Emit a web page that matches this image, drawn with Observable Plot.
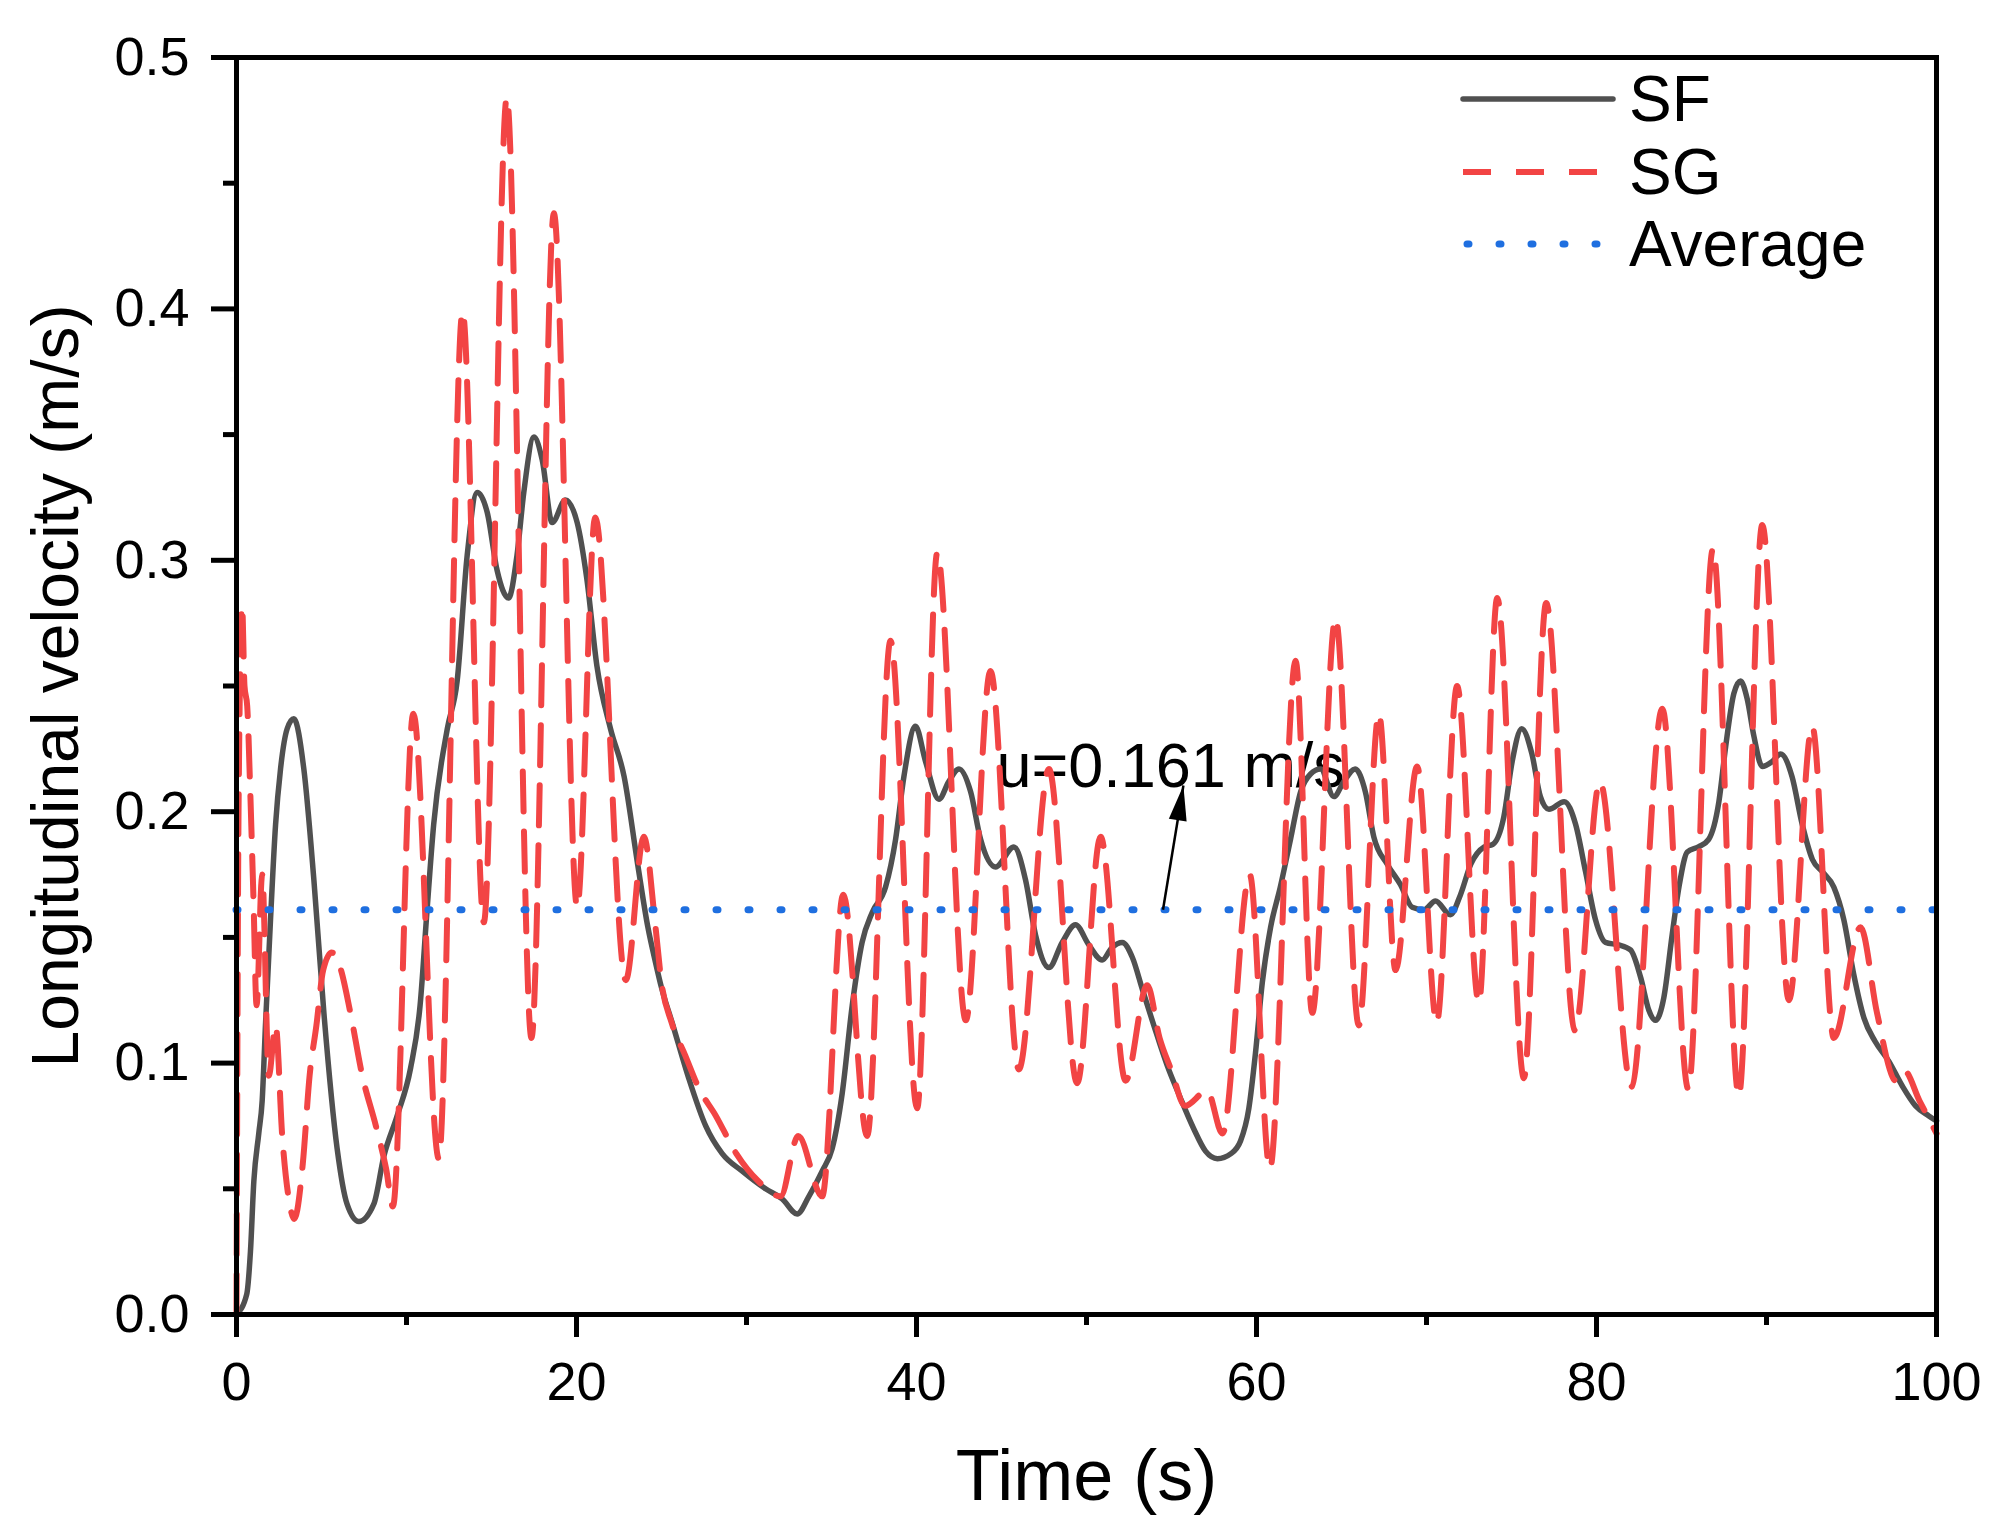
<!DOCTYPE html>
<html>
<head>
<meta charset="utf-8">
<script src="https://cdn.jsdelivr.net/npm/d3@7"></script>
<script src="https://cdn.jsdelivr.net/npm/@observablehq/plot@0.6"></script>
<style>
  html, body { margin: 0; padding: 0; background: #ffffff; overflow: hidden; }
  #chart svg { display: block; }
</style>
</head>
<body>
<div id="chart"></div>
<script>
// ---------------- data (time s, velocity m/s) ----------------
const sfPoints = [
  [0,0],[0.6,0.008],[0.82,0.025],[1.02,0.053],[1.31,0.072],[1.51,0.085],[1.71,0.116],[2.0,0.157],
  [2.3,0.195],[2.59,0.217],[2.98,0.233],[3.37,0.237],[3.96,0.217],[4.55,0.173],[5.14,0.12],[5.92,0.066],
  [6.5,0.044],[7.2,0.037],[8.08,0.044],[8.67,0.063],[9.45,0.079],[10.24,0.098],[10.8,0.123],[11.2,0.16],
  [11.6,0.195],[12.4,0.233],[12.98,0.252],[13.57,0.302],[14.16,0.327],[14.75,0.319],[15.33,0.296],[16.0,0.285],
  [16.5,0.302],[16.9,0.327],[17.5,0.349],[17.98,0.34],[18.57,0.315],[19.35,0.324],[20.04,0.315],[20.6,0.293],
  [21.2,0.258],[22.0,0.233],[22.8,0.214],[23.6,0.179],[24.2,0.154],[24.65,0.14],[25.0,0.13],[25.63,0.116],
  [26.6,0.094],[27.6,0.075],[28.57,0.064],[29.75,0.057],[31.12,0.050],[32.1,0.046],[32.98,0.040],[33.67,0.047],
  [34.45,0.057],[35.04,0.066],[35.63,0.088],[36.22,0.123],[36.8,0.148],[37.4,0.160],[38.18,0.170],[38.77,0.189],
  [39.26,0.214],[39.94,0.234],[40.53,0.220],[41.32,0.205],[41.9,0.212],[42.5,0.217],[43.18,0.208],[43.77,0.189],
  [44.65,0.178],[45.73,0.186],[46.41,0.173],[47.0,0.151],[47.79,0.138],[48.57,0.148],[49.35,0.155],[50.14,0.147],
  [50.92,0.141],[51.5,0.146],[52.1,0.148],[52.7,0.142],[53.3,0.129],[53.96,0.115],[54.75,0.099],[55.5,0.0865],
  [56.3,0.074],[57.0,0.065],[57.7,0.062],[58.5,0.064],[59.06,0.069],[59.55,0.082],[59.94,0.104],[60.34,0.132],
  [60.83,0.154],[61.4,0.170],[62.0,0.189],[62.6,0.208],[63.18,0.215],[63.77,0.217],[64.55,0.206],[65.14,0.212],
  [65.8,0.217],[66.4,0.208],[66.9,0.190],[67.7,0.179],[68.47,0.171],[69.16,0.162],[69.85,0.161],[70.53,0.1645],
  [71.4,0.159],[72.0,0.167],[72.6,0.179],[73.4,0.186],[73.9,0.187],[74.55,0.198],[75.04,0.220],[75.6,0.233],
  [76.2,0.223],[76.7,0.206],[77.2,0.201],[78.1,0.204],[78.77,0.195],[79.36,0.176],[79.94,0.157],[80.53,0.148],
  [81.3,0.147],[82.0,0.145],[82.6,0.134],[83.08,0.121],[83.47,0.117],[83.96,0.126],[84.45,0.151],[84.85,0.170],
  [85.34,0.184],[86.0,0.186],[86.6,0.189],[87.2,0.204],[87.6,0.226],[88.08,0.247],[88.47,0.252],[88.86,0.245],
  [89.26,0.230],[89.75,0.218],[90.34,0.220],[90.83,0.223],[91.5,0.214],[92.1,0.195],[92.7,0.181],[93.3,0.176],
  [93.96,0.170],[94.55,0.157],[95.14,0.135],[95.73,0.118],[96.4,0.1085],[97.2,0.1007],[97.98,0.091],[98.77,0.083],
  [99.55,0.079],[100,0.077]
];

const sgPoints = [
  [0,0],[0.12,0.2],[0.33,0.282],[0.47,0.25],[0.63,0.242],[0.8,0.21],[1.0,0.165],[1.18,0.123],
  [1.51,0.175],[1.9,0.095],[2.3,0.115],[2.7,0.07],[3.1,0.045],[3.4,0.038],[3.9,0.06],[4.3,0.095],
  [4.7,0.115],[5.1,0.137],[5.6,0.144],[6.1,0.138],[6.7,0.12],[7.4,0.095],[8.2,0.075],[8.8,0.058],
  [9.2,0.043],[10.4,0.239],[11.9,0.062],[13.3,0.399],[14.55,0.156],[15.9,0.484],[17.35,0.11],[18.67,0.438],
  [20.04,0.162],[21.1,0.317],[22.9,0.133],[23.96,0.19],[24.65,0.154],[25.0,0.132],[25.6,0.116],[26.4,0.103],
  [27.2,0.09],[28.2,0.079],[29.4,0.064],[30.7,0.053],[32.0,0.047],[33.04,0.071],[34.45,0.047],[35.69,0.167],
  [37.1,0.071],[38.47,0.268],[40.04,0.082],[41.22,0.303],[42.9,0.117],[44.35,0.256],[46.02,0.0975],[47.79,0.217],
  [49.45,0.092],[50.83,0.190],[52.3,0.093],[53.57,0.131],[54.3,0.11],[55.0,0.097],[55.8,0.083],[57.1,0.089],
  [58.0,0.072],[59.6,0.175],[60.79,0.058],[62.3,0.260],[63.28,0.120],[64.65,0.277],[66.02,0.115],[67.2,0.239],
  [68.18,0.137],[69.45,0.218],[70.6,0.116],[71.8,0.25],[73.08,0.124],[74.16,0.285],[75.73,0.094],[77.04,0.283],
  [78.73,0.113],[80.2,0.212],[82.06,0.0906],[83.87,0.241],[85.4,0.0897],[86.85,0.3045],[88.37,0.087],[89.75,0.314],
  [91.32,0.125],[92.69,0.234],[93.96,0.110],[95.53,0.154],[96.5,0.12],[97.6,0.093],[98.1,0.097],[99.0,0.085],
  [100,0.072]
];

const averageValue = 0.161;
const seriesNames = ["SF", "SG", "Average"];
const xMajorTicks = [0, 20, 40, 60, 80, 100];
const xMinorTicks = [10, 30, 50, 70, 90];
const yMajorTicks = [0, 0.1, 0.2, 0.3, 0.4, 0.5];
const yMinorTicks = [0.05, 0.15, 0.25, 0.35, 0.45];
const annotationText = "u=0.161 m/s";
const annotationAnchor = [44.7, 0.218];              // label position (t, v)
const annotationArrow = [54.5, 0.161, 55.7, 0.2104]; // from average line to label

// ---------------- layout / style ----------------
const W = 2003, H = 1530;
const ML = 236, MR = 67, MT = 57, MB = 216;
const FONT = "'Liberation Sans', Arial, Helvetica, sans-serif";
const C_SF = "#505050", C_SG = "#f24444", C_AVG = "#1f6fe0";
const SG_DASH = "40,20";

const pxPerT = (W - ML - MR) / 100;
const pxPerV = (H - MT - MB) / 0.5;
const [ax1, ay1, ax2, ay2] = annotationArrow;
const arrowAngle = Math.atan2((ax2 - ax1) * pxPerT, (ay2 - ay1) * pxPerV) * 180 / Math.PI;

const chart = Plot.plot({
  width: W,
  height: H,
  marginLeft: ML, marginRight: MR, marginTop: MT, marginBottom: MB,
  style: { fontFamily: FONT, background: "#ffffff", color: "#000000", overflow: "visible" },
  x: { domain: [0, 100] },
  y: { domain: [0, 0.5] },
  marks: [
    Plot.text([annotationText], {
      x: () => annotationAnchor[0], y: () => annotationAnchor[1], text: d => d,
      textAnchor: "start", lineAnchor: "middle", fontSize: 63, fill: "#000000"
    }),
    Plot.line(sfPoints, { x: d => d[0], y: d => d[1], curve: "monotone-x", stroke: C_SF, strokeWidth: 5.5 }),
    Plot.line(sgPoints, { x: d => d[0], y: d => d[1], curve: "monotone-x", stroke: C_SG, strokeWidth: 6, strokeDasharray: SG_DASH }),
    Plot.ruleY([averageValue], { stroke: C_AVG, strokeWidth: 7, strokeDasharray: "2,30", strokeLinecap: "round" }),
    Plot.link([annotationArrow], { x1: d => d[0], y1: d => d[1], x2: d => d[2], y2: d => d[3], stroke: "#000000", strokeWidth: 2.5 }),
    Plot.vector([annotationArrow], {
      x: d => d[2], y: d => d[3], rotate: arrowAngle, length: 35, r: 9,
      shape: "spike", anchor: "end", fill: "#000000", stroke: "none"
    }),
    Plot.frame({ stroke: "#000000", strokeWidth: 5 }),
    Plot.axisX({ ticks: xMajorTicks, tickSize: 23, tickPadding: 24, fontSize: 54, strokeWidth: 5, tickFormat: d => String(d), label: null }),
    Plot.axisX({ ticks: xMinorTicks, tickSize: 11, strokeWidth: 5, text: null, label: null }),
    Plot.axisY({ ticks: yMajorTicks, tickSize: 25, tickPadding: 22, fontSize: 54, strokeWidth: 5, tickFormat: d3.format(".1f"), label: null }),
    Plot.axisY({ ticks: yMinorTicks, tickSize: 13, strokeWidth: 5, text: null, label: null }),
    Plot.text(["Time (s)"], { frameAnchor: "bottom", dy: 162, text: d => d, fontSize: 72, textAnchor: "middle", lineAnchor: "middle", fill: "#000000" }),
    Plot.text(["Longitudinal velocity (m/s)"], { frameAnchor: "left", dx: -180, rotate: -90, text: d => d, fontSize: 66, textAnchor: "middle", lineAnchor: "middle", fill: "#000000" })
  ]
});

document.getElementById("chart").appendChild(chart);

// ---------------- legend (inside plot, top right) ----------------
const svg = d3.select(chart.tagName.toLowerCase() === "svg" ? chart : chart.querySelector("svg"));
const lg = svg.append("g").attr("class", "legend");
const legendRows = [
  { name: seriesNames[0], color: C_SF, width: 5.5, dash: null, cap: "round", x1: 1463, x2: 1613, y: 99 },
  { name: seriesNames[1], color: C_SG, width: 6, dash: "28,25", cap: "butt", x1: 1463, x2: 1597, y: 172 },
  { name: seriesNames[2], color: C_AVG, width: 7, dash: "2,30", cap: "round", x1: 1467, x2: 1600, y: 244 }
];
legendRows.forEach(r => {
  const ln = lg.append("line")
    .attr("x1", r.x1).attr("x2", r.x2).attr("y1", r.y).attr("y2", r.y)
    .attr("stroke", r.color).attr("stroke-width", r.width).attr("stroke-linecap", r.cap);
  if (r.dash) ln.attr("stroke-dasharray", r.dash);
  lg.append("text")
    .attr("x", 1629).attr("y", r.y + 22)
    .attr("text-anchor", "start")
    .attr("font-family", FONT).attr("font-size", 64).attr("fill", "#000000")
    .text(r.name);
});
</script>
</body>
</html>
